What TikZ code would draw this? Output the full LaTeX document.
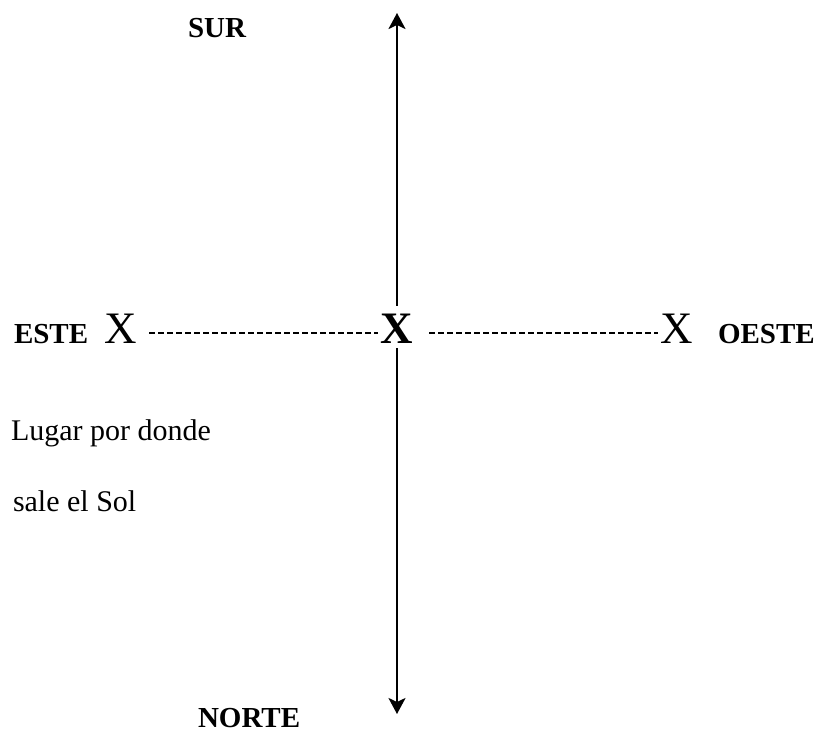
\documentclass[tikz,border=0pt]{standalone}
\usepackage{fontspec}
\setmainfont{Liberation Serif}
\usepackage{tikz}
\usetikzlibrary{arrows.meta, positioning, calc}

\begin{document}
\begin{tikzpicture}[x=1pt, y=-1pt, line width=2pt,
    dirlabel/.style={inner sep=0pt, anchor=base west, font=\fontsize{29}{34}\selectfont\bfseries},
    note/.style={inner sep=0pt, anchor=base west, font=\fontsize{30}{36}\selectfont},
    xmark/.style={inner sep=0pt, anchor=base, font=\fontsize{45}{50}\selectfont},
    axis/.style={line width=2.4pt, -{Stealth[length=16pt, width=17pt, inset=4pt]}},
    dashline/.style={dash pattern=on 6pt off 3pt}]
  \useasboundingbox (0,0) rectangle (820,732);

  % ---- cardinal labels ----
  \node[dirlabel] (sur) at (187,37) {SUR};
  \node[dirlabel] (norte) at (197,727) {NORTE};
  \node[dirlabel] (este) at (13,343) {ESTE};
  \node[dirlabel] (oeste) at (717,343) {OESTE};

  % ---- the three X marks on the east-west line ----
  \node[xmark] (xl) at (121,343) {X};
  \node[xmark, font=\fontsize{45}{50}\selectfont\bfseries] (xc) at (397,343) {X};
  \node[xmark] (xr) at (677,343) {X};

  % ---- note under ESTE ----
  \node[note] (lugar) at (10,440) {Lugar por donde};
  \node[note] (sale) at (12,511) {sale el Sol};

  % ---- north-south axis ----
  \coordinate (tipS) at (397,13);
  \coordinate (tipN) at (397,714);
  \draw[axis] ([yshift=7pt]xc.north) -- (tipS);
  \draw[axis] ([yshift=-4pt]xc.south) -- (tipN);

  % ---- east-west dashes ----
  \draw[dashline] ([shift={(11,5)}]xl.east) -- ([shift={(-2,5)}]xc.west);
  \draw[dashline] ([shift={(15,5)}]xc.east) -- ([shift={(-2,5)}]xr.west);
\end{tikzpicture}
\end{document}
